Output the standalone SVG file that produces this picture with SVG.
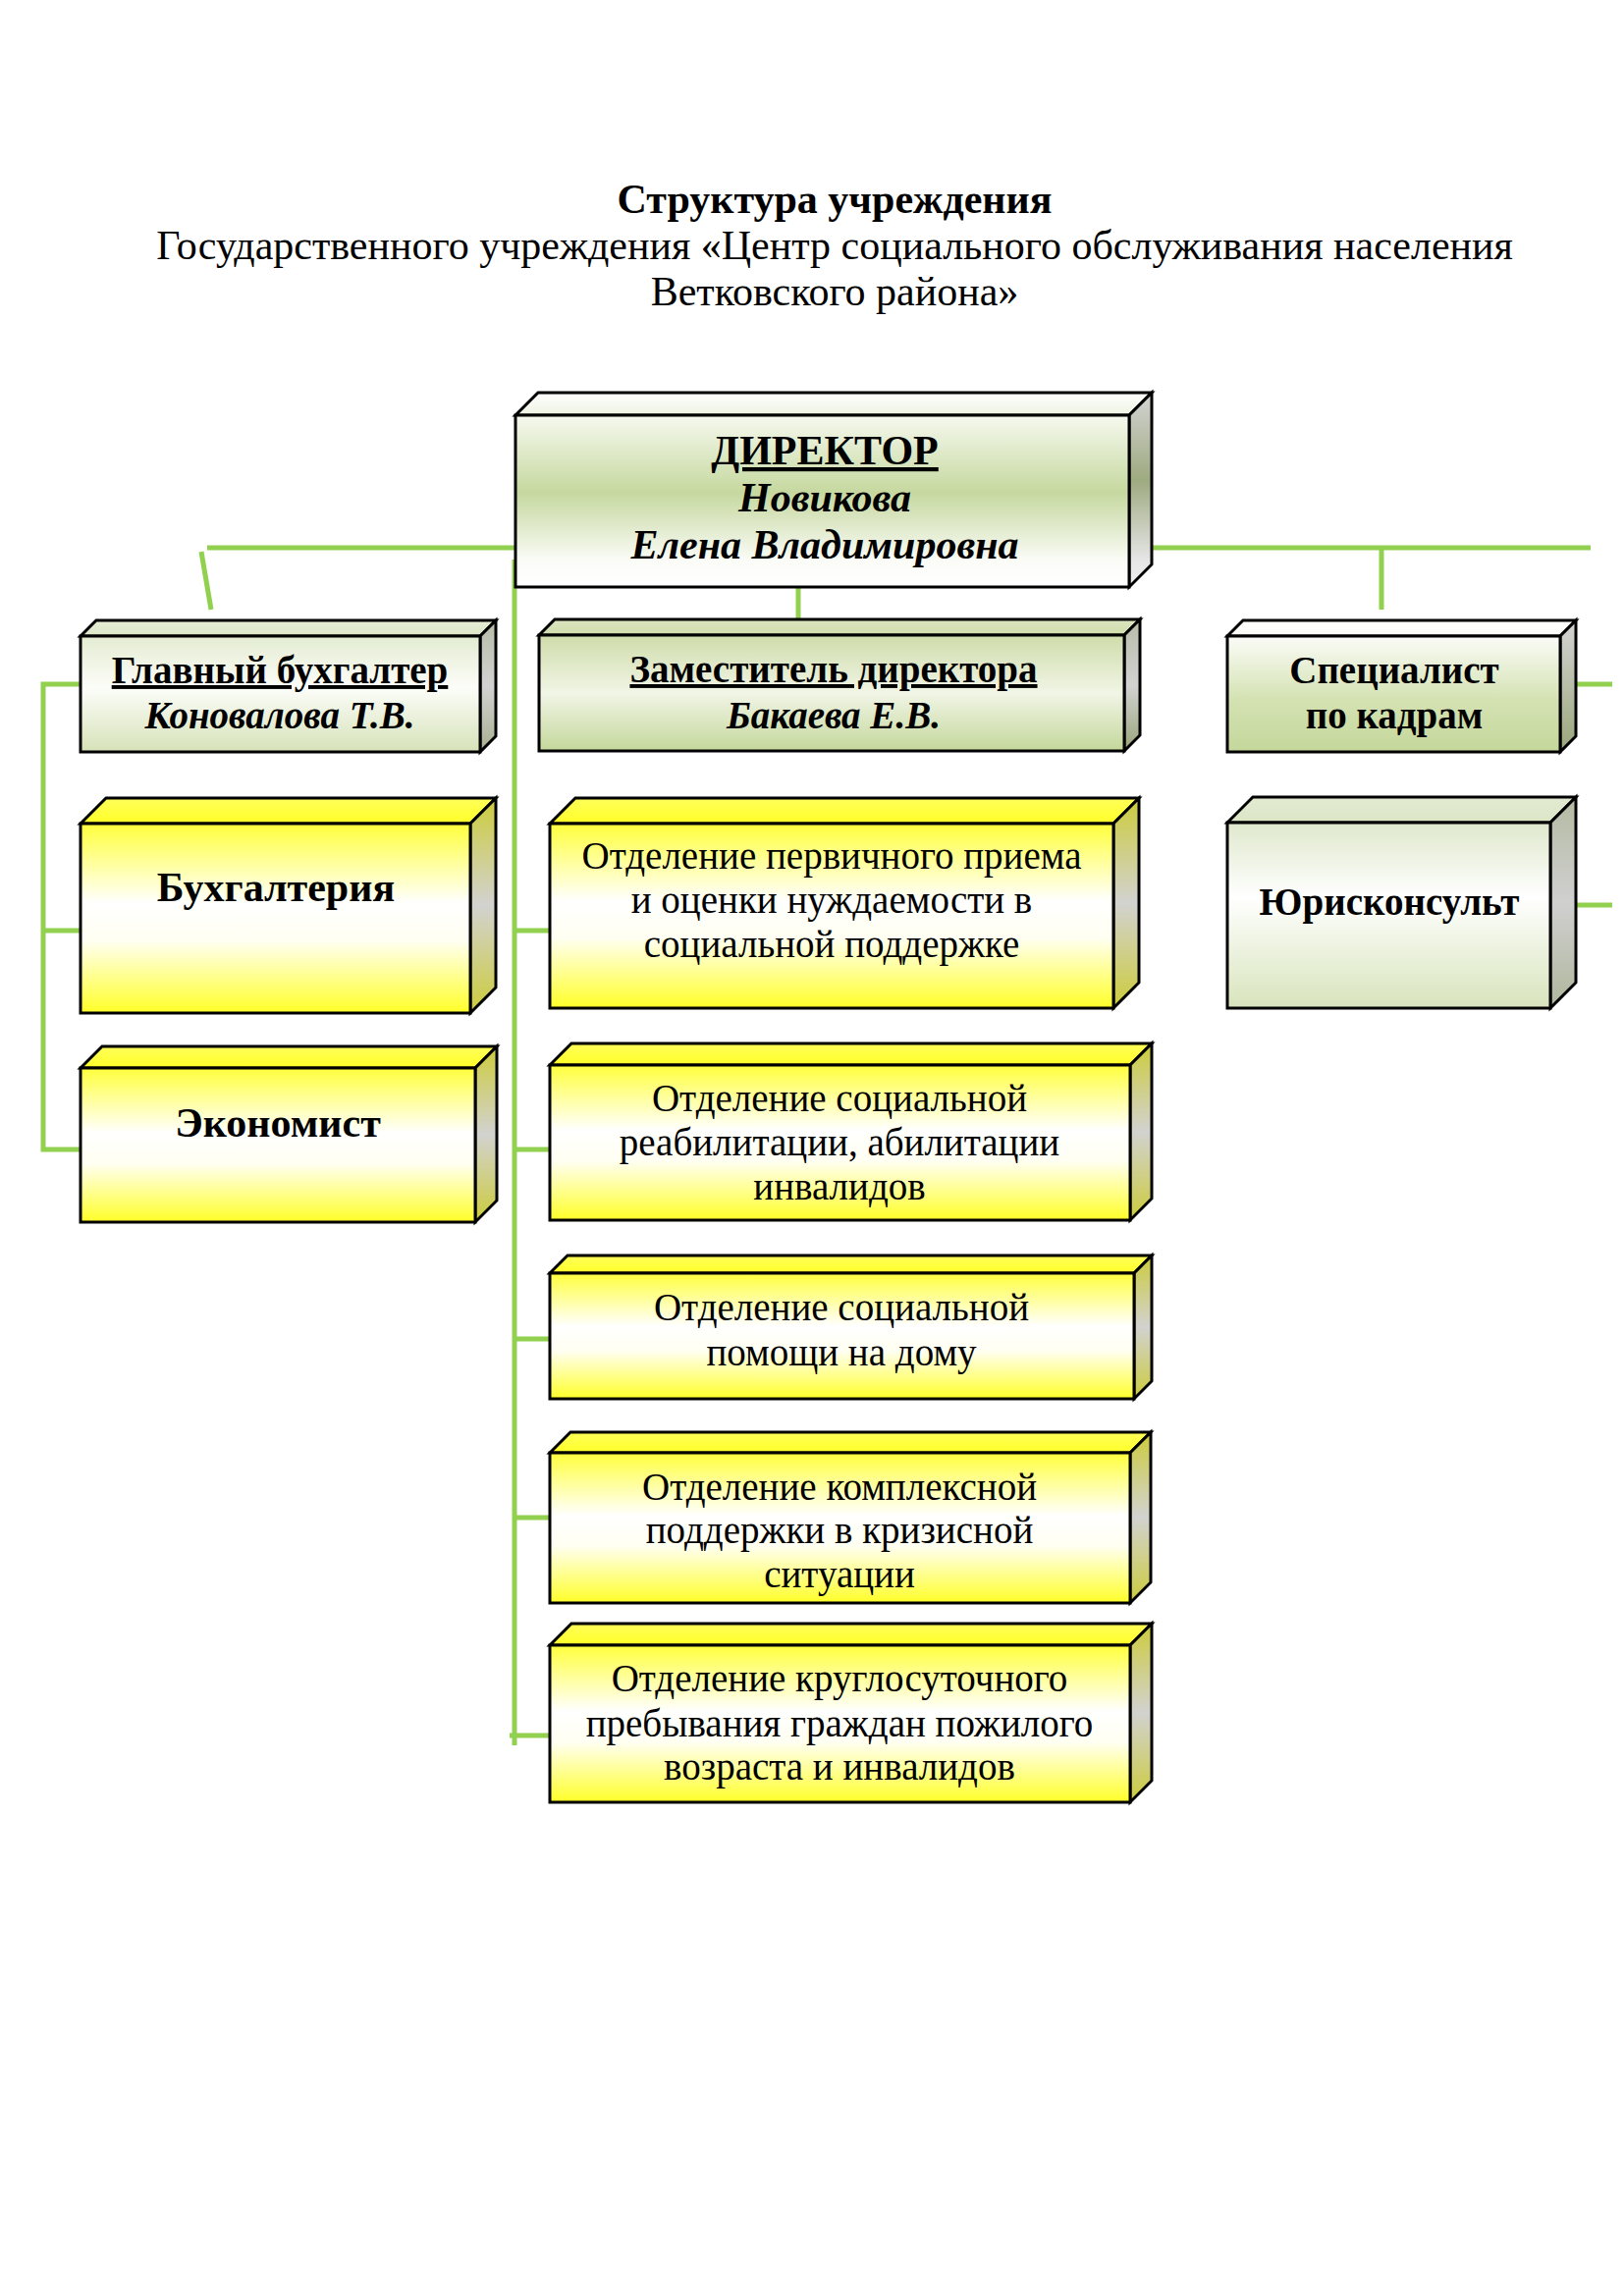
<svg xmlns="http://www.w3.org/2000/svg" width="1654" height="2339" viewBox="0 0 1654 2339">
<style>
.bx{stroke:#000;stroke-width:3;stroke-linejoin:miter}
.ln{stroke:#92d050;stroke-width:5;fill:none}
.t{font-family:"Liberation Serif","Times New Roman",serif;font-size:39px;fill:#000;text-anchor:middle}
.lg{font-size:42px}
.b{font-weight:bold}
.i{font-style:italic}
.u{text-decoration:underline}
</style>
<defs>
<linearGradient id="fDir" x1="0" y1="0" x2="0" y2="1"><stop offset="0" stop-color="#f6f9ef"/><stop offset="0.45" stop-color="#c6d89f"/><stop offset="0.85" stop-color="#fbfcf8"/><stop offset="1" stop-color="#ffffff"/></linearGradient>
<linearGradient id="tDir" x1="0" y1="0" x2="0" y2="1"><stop offset="0" stop-color="#ffffff"/><stop offset="1" stop-color="#eef3e2"/></linearGradient>
<linearGradient id="sDir" x1="0" y1="0" x2="0" y2="1"><stop offset="0" stop-color="#d4d4d4"/><stop offset="0.45" stop-color="#9eaa80"/><stop offset="0.85" stop-color="#e4e4e4"/><stop offset="1" stop-color="#f2f2f2"/></linearGradient>
<linearGradient id="fDep" x1="0" y1="0" x2="0" y2="1"><stop offset="0" stop-color="#cfdcaa"/><stop offset="0.5" stop-color="#f1f5e6"/><stop offset="1" stop-color="#c4d79b"/></linearGradient>
<linearGradient id="tDep" x1="0" y1="0" x2="0" y2="1"><stop offset="0" stop-color="#dce6c2"/><stop offset="1" stop-color="#cfdcaa"/></linearGradient>
<linearGradient id="sDep" x1="0" y1="0" x2="0" y2="1"><stop offset="0" stop-color="#b8bca8"/><stop offset="0.5" stop-color="#d2d2d2"/><stop offset="1" stop-color="#98a47a"/></linearGradient>
<linearGradient id="fGb" x1="0" y1="0" x2="0" y2="1"><stop offset="0" stop-color="#e4ecd2"/><stop offset="0.45" stop-color="#fcfdf9"/><stop offset="1" stop-color="#d6e2b8"/></linearGradient>
<linearGradient id="tGb" x1="0" y1="0" x2="0" y2="1"><stop offset="0" stop-color="#e6eed6"/><stop offset="1" stop-color="#dce6c6"/></linearGradient>
<linearGradient id="sGb" x1="0" y1="0" x2="0" y2="1"><stop offset="0" stop-color="#b6bca6"/><stop offset="0.5" stop-color="#d2d2d2"/><stop offset="1" stop-color="#a8b090"/></linearGradient>
<linearGradient id="fSp" x1="0" y1="0" x2="0" y2="1"><stop offset="0" stop-color="#fbfcf8"/><stop offset="0.55" stop-color="#d4e2b2"/><stop offset="1" stop-color="#c4d79b"/></linearGradient>
<linearGradient id="tSp" x1="0" y1="0" x2="0" y2="1"><stop offset="0" stop-color="#ffffff"/><stop offset="1" stop-color="#fafbf6"/></linearGradient>
<linearGradient id="sSp" x1="0" y1="0" x2="0" y2="1"><stop offset="0" stop-color="#d4d4d4"/><stop offset="1" stop-color="#9aa67a"/></linearGradient>
<linearGradient id="fYu" x1="0" y1="0" x2="0" y2="1"><stop offset="0" stop-color="#dfe8cc"/><stop offset="0.4" stop-color="#ffffff"/><stop offset="1" stop-color="#d8e4bc"/></linearGradient>
<linearGradient id="tYu" x1="0" y1="0" x2="0" y2="1"><stop offset="0" stop-color="#e2ead2"/><stop offset="1" stop-color="#dce6c6"/></linearGradient>
<linearGradient id="sYu" x1="0" y1="0" x2="0" y2="1"><stop offset="0" stop-color="#b4baa2"/><stop offset="0.5" stop-color="#d0d0d0"/><stop offset="1" stop-color="#b0b69c"/></linearGradient>
<linearGradient id="fYe" x1="0" y1="0" x2="0" y2="1"><stop offset="0" stop-color="#ffff3c"/><stop offset="0.42" stop-color="#ffffff"/><stop offset="0.62" stop-color="#fffff2"/><stop offset="1" stop-color="#ffff28"/></linearGradient>
<linearGradient id="tYe" x1="0" y1="0" x2="0" y2="1"><stop offset="0" stop-color="#ffff5a"/><stop offset="1" stop-color="#ffff28"/></linearGradient>
<linearGradient id="sYe" x1="0" y1="0" x2="0" y2="1"><stop offset="0" stop-color="#cccc3c"/><stop offset="0.5" stop-color="#d2d2d0"/><stop offset="1" stop-color="#cccc3c"/></linearGradient>
</defs>
<rect width="1654" height="2339" fill="#ffffff"/>

<g id="title">
<text class="t lg b" x="850" y="217">Структура учреждения</text>
<text class="t lg" x="850" y="264">Государственного учреждения «Центр социального обслуживания населения</text>
<text class="t lg" x="850" y="311">Ветковского района»</text>
</g>

<g id="connectors">
<line class="ln" x1="211" y1="558" x2="525" y2="558"/>
<line class="ln" x1="205" y1="562" x2="215" y2="621"/>
<line class="ln" x1="1173" y1="558" x2="1620" y2="558"/>
<line class="ln" x1="1407" y1="558" x2="1407" y2="621"/>
<line class="ln" x1="813" y1="598" x2="813" y2="643"/>
<line class="ln" x1="524" y1="570" x2="524" y2="1778"/>
<line class="ln" x1="524" y1="948" x2="560" y2="948"/>
<line class="ln" x1="524" y1="1171" x2="560" y2="1171"/>
<line class="ln" x1="524" y1="1364" x2="560" y2="1364"/>
<line class="ln" x1="524" y1="1546" x2="560" y2="1546"/>
<line class="ln" x1="519" y1="1768" x2="560" y2="1768"/>
<polyline class="ln" points="82,697 44,697 44,1171 82,1171"/>
<line class="ln" x1="44" y1="948" x2="82" y2="948"/>
<line class="ln" x1="1605" y1="697" x2="1642" y2="697"/>
<line class="ln" x1="1605" y1="922" x2="1642" y2="922"/>
</g>

<g id="director">
<polygon class="bx" fill="url(#tDir)" points="525,423 548,400 1173,400 1150,423"/>
<polygon class="bx" fill="url(#sDir)" points="1150,423 1173,400 1173,575 1150,598"/>
<rect class="bx" fill="url(#fDir)" x="525" y="423" width="625" height="175"/>
<text class="t lg b u" x="840" y="473">ДИРЕКТОР</text>
<text class="t lg b i" x="840" y="521">Новикова</text>
<text class="t lg b i" x="840" y="569">Елена Владимировна</text>
</g>

<g id="chief-accountant">
<polygon class="bx" fill="url(#tGb)" points="82,648 98,632 505,632 489,648"/>
<polygon class="bx" fill="url(#sGb)" points="489,648 505,632 505,750 489,766"/>
<rect class="bx" fill="url(#fGb)" x="82" y="648" width="407" height="118"/>
<text class="t b u" x="285" y="696">Главный бухгалтер</text>
<text class="t b i" x="285" y="742">Коновалова Т.В.</text>
</g>

<g id="deputy">
<polygon class="bx" fill="url(#tDep)" points="549,647 565,631 1161,631 1145,647"/>
<polygon class="bx" fill="url(#sDep)" points="1145,647 1161,631 1161,749 1145,765"/>
<rect class="bx" fill="url(#fDep)" x="549" y="647" width="596" height="118"/>
<text class="t b u" x="849" y="695">Заместитель директора</text>
<text class="t b i" x="849" y="742">Бакаева Е.В.</text>
</g>

<g id="hr-specialist">
<polygon class="bx" fill="url(#tSp)" points="1250,648 1266,632 1605,632 1589,648"/>
<polygon class="bx" fill="url(#sSp)" points="1589,648 1605,632 1605,750 1589,766"/>
<rect class="bx" fill="url(#fSp)" x="1250" y="648" width="339" height="118"/>
<text class="t b" x="1420" y="696">Специалист</text>
<text class="t b" x="1420" y="742">по кадрам</text>
</g>

<g id="accounting">
<polygon class="bx" fill="url(#tYe)" points="82,839 108,813 505,813 479,839"/>
<polygon class="bx" fill="url(#sYe)" points="479,839 505,813 505,1006 479,1032"/>
<rect class="bx" fill="url(#fYe)" x="82" y="839" width="397" height="193"/>
<text class="t lg b" x="281" y="918">Бухгалтерия</text>
</g>

<g id="economist">
<polygon class="bx" fill="url(#tYe)" points="82,1088 104,1066 506,1066 484,1088"/>
<polygon class="bx" fill="url(#sYe)" points="484,1088 506,1066 506,1223 484,1245"/>
<rect class="bx" fill="url(#fYe)" x="82" y="1088" width="402" height="157"/>
<text class="t lg b" x="283" y="1158">Экономист</text>
</g>

<g id="legal-adviser">
<polygon class="bx" fill="url(#tYu)" points="1250,838 1276,812 1605,812 1579,838"/>
<polygon class="bx" fill="url(#sYu)" points="1579,838 1605,812 1605,1001 1579,1027"/>
<rect class="bx" fill="url(#fYu)" x="1250" y="838" width="329" height="189"/>
<text class="t b" x="1415" y="932">Юрисконсульт</text>
</g>

<g id="dept-intake">
<polygon class="bx" fill="url(#tYe)" points="560,839 586,813 1160,813 1134,839"/>
<polygon class="bx" fill="url(#sYe)" points="1134,839 1160,813 1160,1001 1134,1027"/>
<rect class="bx" fill="url(#fYe)" x="560" y="839" width="574" height="188"/>
<text class="t" x="847" y="885">Отделение первичного приема</text>
<text class="t" x="847" y="930">и оценки нуждаемости в</text>
<text class="t" x="847" y="975">социальной поддержке</text>
</g>

<g id="dept-rehab">
<polygon class="bx" fill="url(#tYe)" points="560,1085 582,1063 1173,1063 1151,1085"/>
<polygon class="bx" fill="url(#sYe)" points="1151,1085 1173,1063 1173,1221 1151,1243"/>
<rect class="bx" fill="url(#fYe)" x="560" y="1085" width="591" height="158"/>
<text class="t" x="855" y="1132">Отделение социальной</text>
<text class="t" x="855" y="1177">реабилитации, абилитации</text>
<text class="t" x="855" y="1222">инвалидов</text>
</g>

<g id="dept-home">
<polygon class="bx" fill="url(#tYe)" points="560,1297 578,1279 1173,1279 1155,1297"/>
<polygon class="bx" fill="url(#sYe)" points="1155,1297 1173,1279 1173,1407 1155,1425"/>
<rect class="bx" fill="url(#fYe)" x="560" y="1297" width="595" height="128"/>
<text class="t" x="857" y="1345">Отделение социальной</text>
<text class="t" x="857" y="1391">помощи на дому</text>
</g>

<g id="dept-crisis">
<polygon class="bx" fill="url(#tYe)" points="560,1480 581,1459 1172,1459 1151,1480"/>
<polygon class="bx" fill="url(#sYe)" points="1151,1480 1172,1459 1172,1612 1151,1633"/>
<rect class="bx" fill="url(#fYe)" x="560" y="1480" width="591" height="153"/>
<text class="t" x="855" y="1528">Отделение комплексной</text>
<text class="t" x="855" y="1572">поддержки в кризисной</text>
<text class="t" x="855" y="1617">ситуации</text>
</g>

<g id="dept-residential">
<polygon class="bx" fill="url(#tYe)" points="560,1676 582,1654 1173,1654 1151,1676"/>
<polygon class="bx" fill="url(#sYe)" points="1151,1676 1173,1654 1173,1814 1151,1836"/>
<rect class="bx" fill="url(#fYe)" x="560" y="1676" width="591" height="160"/>
<text class="t" x="855" y="1723">Отделение круглосуточного</text>
<text class="t" x="855" y="1769">пребывания граждан пожилого</text>
<text class="t" x="855" y="1813">возраста и инвалидов</text>
</g>
</svg>
